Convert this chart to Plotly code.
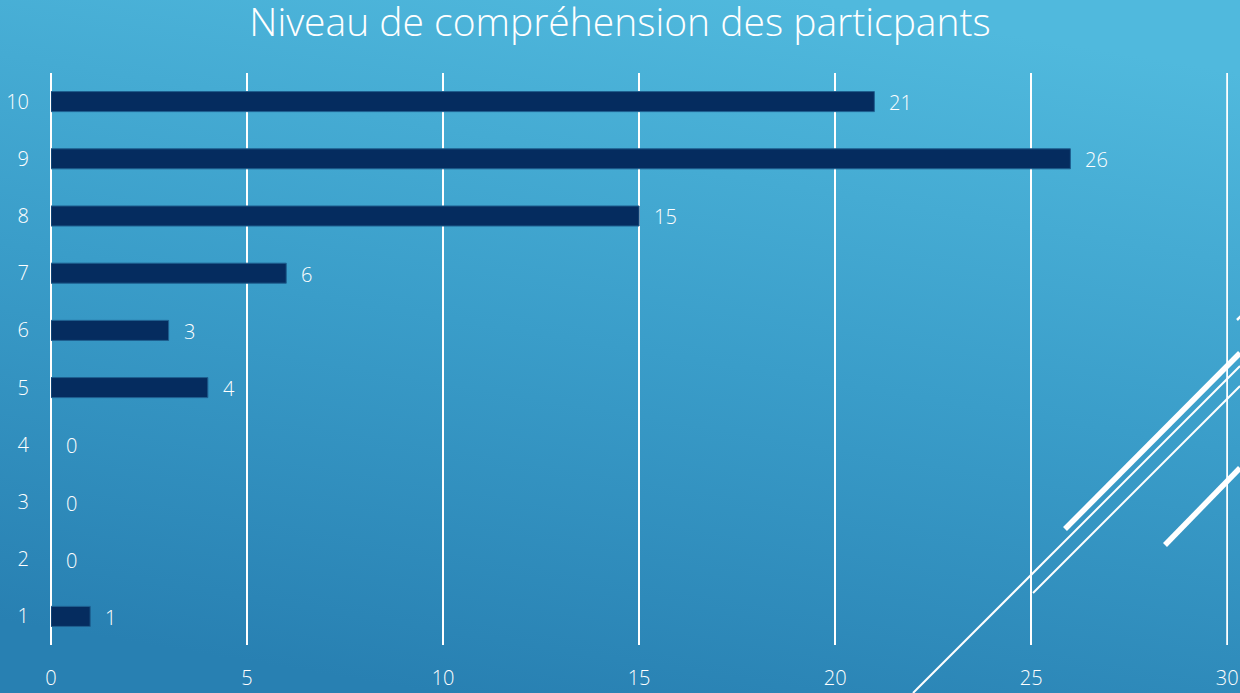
import base64
import plotly.graph_objects as go

# ---- data ----
levels = [1, 2, 3, 4, 5, 6, 7, 8, 9, 10]
level_labels = ["1", "2", "3", "4", "5", "6", "7", "8", "9", "10"]
counts = [1, 0, 0, 0, 4, 3, 6, 15, 26, 21]
x_ticks = [0, 5, 10, 15, 20, 25, 30]
title_text = "Niveau de compréhension des particpants"

W, H = 1240, 693
FONT = "'Open Sans', 'DejaVu Sans', sans-serif"
WT = 300

# background gradient as svg image
svg = f'''<svg xmlns="http://www.w3.org/2000/svg" width="{W}" height="{H}" viewBox="0 0 {W} {H}" preserveAspectRatio="none">
<defs><linearGradient id="g" x1="0.35" y1="1" x2="0.65" y2="0">
<stop offset="0" stop-color="#2880b2"/>
<stop offset="0.5" stop-color="#3a9dc9"/>
<stop offset="1" stop-color="#50b9dd"/>
</linearGradient></defs>
<rect x="0" y="0" width="{W}" height="{H}" fill="url(#g)"/>
</svg>'''
src = "data:image/svg+xml;base64," + base64.b64encode(svg.encode()).decode()

fig = go.Figure()
fig.add_trace(go.Bar(
    x=counts, y=levels, orientation="h",
    marker=dict(color="#052c5f",
                line=dict(color="#1f5f8f", width=[1 if v > 0 else 0 for v in counts])),
    width=0.35,
    hoverinfo="x+y",
))

# value labels
for v, lvl in zip(counts, levels):
    fig.add_annotation(x=v, y=lvl, text=str(v), showarrow=False,
                       xanchor="left", xshift=13, yshift=-1,
                       font=dict(size=20, color="white", family=FONT, weight=WT))

x0, x1 = 51 / W, 1228 / W
y0, y1 = 48 / H, 620 / H

fig.update_layout(
    width=W, height=H,
    margin=dict(l=0, r=0, t=0, b=0, autoexpand=False),
    paper_bgcolor="#3a9dc9",
    plot_bgcolor="rgba(0,0,0,0)",
    showlegend=False,
    font=dict(family=FONT, color="white", size=20, weight=WT),
    title=dict(text=title_text, x=0.5, xanchor="center", y=1 - 22 / H, yanchor="middle",
               font=dict(size=39, color="white", family=FONT, weight=WT)),
    xaxis=dict(domain=[x0, x1], range=[0, 30.02], tickvals=x_ticks,
               showgrid=True, gridcolor="white", gridwidth=2,
               zeroline=True, zerolinecolor="white", zerolinewidth=2,
               showline=False, ticks="", ticklabelstandoff=19, automargin=False,
               ticklabeloverflow="allow",
               tickfont=dict(size=20, color="white", family=FONT, weight=WT)),
    yaxis=dict(domain=[y0, y1], range=[0.5, 10.5],
               tickvals=levels, ticktext=level_labels,
               showgrid=False, zeroline=False, showline=False, ticks="",
               ticklabelstandoff=21, automargin=False,
               tickfont=dict(size=20, color="white", family=FONT, weight=WT)),
    images=[dict(source=src, xref="paper", yref="paper", x=0, y=1, sizex=1, sizey=1,
                 xanchor="left", yanchor="top", sizing="stretch", layer="below")],
)

# last gridline at the right edge of the axis (plotly clips grid at range ends)
fig.add_shape(type="line", xref="x", yref="y domain", x0=x_ticks[-1], x1=x_ticks[-1],
              y0=0, y1=1, line=dict(color="white", width=2), layer="below")

# decorative lines (pixel coordinates converted to paper)
def px(xp, yp):
    return xp / W, 1 - yp / H

deco = [
    ((913, 693), (1240, 366), 2),
    ((1033, 593), (1240, 386), 2),
    ((1065, 529), (1240, 353), 5.5),
    ((1165, 545), (1240, 468), 5.5),
    ((1237, 320), (1241, 316), 2.5),
]
for (a, b, w) in deco:
    ax, ay = px(*a)
    bx, by = px(*b)
    fig.add_shape(type="line", xref="paper", yref="paper", x0=ax, y0=ay, x1=bx, y1=by,
                  line=dict(color="white", width=w), layer="above")

fig.write_html("out.html", config={"displayModeBar": False},
               post_script="document.body.style.margin='0';document.body.style.overflow='hidden';")
